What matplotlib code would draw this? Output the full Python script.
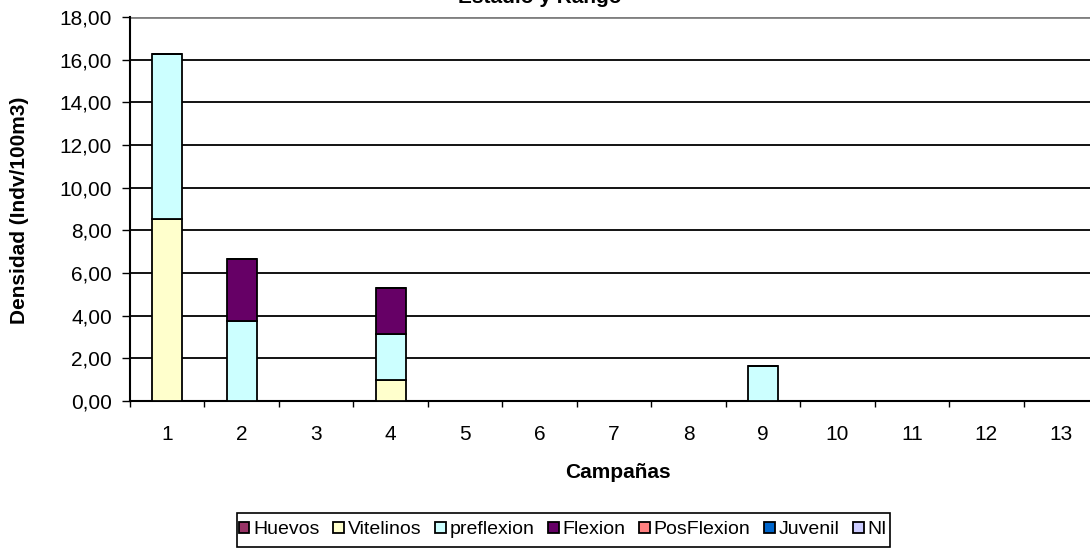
import numpy as np
import matplotlib
matplotlib.use("Agg")
import matplotlib.pyplot as plt
from matplotlib.patches import Rectangle
from matplotlib.ticker import FuncFormatter, FixedLocator

plt.rcParams['font.family'] = ['Liberation Sans', 'DejaVu Sans']

campanas = [str(i) for i in range(1, 14)]
nan = np.nan
huevos     = [0, 0, nan, 0, nan, nan, nan, nan, 0, nan, nan, nan, nan]
vitelinos  = [8.55, 0, nan, 0.98, nan, nan, nan, nan, 0, nan, nan, nan, nan]
preflexion = [7.72, 3.77, nan, 2.15, nan, nan, nan, nan, 1.66, nan, nan, nan, nan]
flexion    = [0, 2.87, nan, 2.15, nan, nan, nan, nan, 0, nan, nan, nan, nan]
posflexion = [0, 0, nan, 0, nan, nan, nan, nan, 0, nan, nan, nan, nan]
juvenil    = [0, 0, nan, 0, nan, nan, nan, nan, 0, nan, nan, nan, nan]
ni         = [0, 0, nan, 0, nan, nan, nan, nan, 0, nan, nan, nan, nan]

series = [
    ("Huevos", huevos, "#993366"),
    ("Vitelinos", vitelinos, "#FFFFCC"),
    ("preflexion", preflexion, "#CCFFFF"),
    ("Flexion", flexion, "#660066"),
    ("PosFlexion", posflexion, "#FF8080"),
    ("Juvenil", juvenil, "#0066CC"),
    ("NI", ni, "#CCCCFF"),
]

W, H = 1090, 555
fig = plt.figure(figsize=(W / 100, H / 100), dpi=100)
# plot area runs past the right edge of the canvas
ax = fig.add_axes([130 / W, 1 - 401 / H, 968 / W, 384 / H])

x = np.arange(len(campanas))
bottom = np.zeros(len(campanas))
handles = []
for name, vals, color in series:
    v = np.array(vals, dtype=float)
    h = ax.bar(x, v, width=0.4, bottom=bottom, color=color, edgecolor="black",
               linewidth=1.3, label=name, zorder=3)
    handles.append(h)
    bottom = bottom + np.nan_to_num(v)

ax.set_xlim(-0.5, len(campanas) - 0.5)
ax.set_ylim(0, 18)
ax.set_yticks(np.arange(0, 18.01, 2))
ax.yaxis.set_major_formatter(FuncFormatter(lambda v, p: f"{v:.2f}".replace(".", ",")))
ax.set_xticks(x)
ax.set_xticklabels(campanas)
ax.xaxis.set_minor_locator(FixedLocator(np.arange(-0.5, len(campanas), 1)))
ax.tick_params(axis="x", which="major", length=0, pad=17, labelsize=15)
ax.tick_params(axis="x", which="minor", length=4, width=1, direction="out")
ax.tick_params(axis="y", length=6, width=1, direction="out", labelsize=15, pad=7)

for yv in np.arange(2, 17, 2):
    ax.axhline(yv, color="black", linewidth=1.3, zorder=1)
ax.axhline(18, color="#808080", linewidth=2, zorder=1)

for s in ["top", "right"]:
    ax.spines[s].set_visible(False)
ax.spines["left"].set_linewidth(1.5)
ax.spines["bottom"].set_linewidth(1.5)

ax.set_xlabel("Campañas", fontsize=15, fontweight="bold")
ax.set_ylabel("Densidad (Indv/100m3)", fontsize=15, fontweight="bold")
ax.xaxis.set_label_coords((618 - 130) / 968, (401 - 472) / 384)
ax.xaxis.label.set_va("center")
ax.yaxis.set_label_coords((20 - 130) / 968, (401 - 210) / 384)
ax.yaxis.label.set_va("center")

fig.text(540 / W, 1 - 3 / H, "Estadio y Rango", ha="center", va="baseline",
         fontsize=15, fontweight="bold")

# legend box
fig.patches.append(Rectangle((237 / W, 1 - 547 / H), (890 - 237) / W, 34 / H,
                             transform=fig.transFigure, facecolor="white",
                             edgecolor="black", linewidth=1.2, zorder=1))
leg = fig.legend(handles=handles, loc="center", bbox_to_anchor=(563 / W, 1 - 530 / H),
                 ncol=7, fontsize=14, frameon=False,
                 handlelength=0.55, handleheight=0.55, handletextpad=0.2,
                 columnspacing=0.7, borderpad=0.2)
leg.set_zorder(2)

fig.savefig("out.png", dpi=100)
